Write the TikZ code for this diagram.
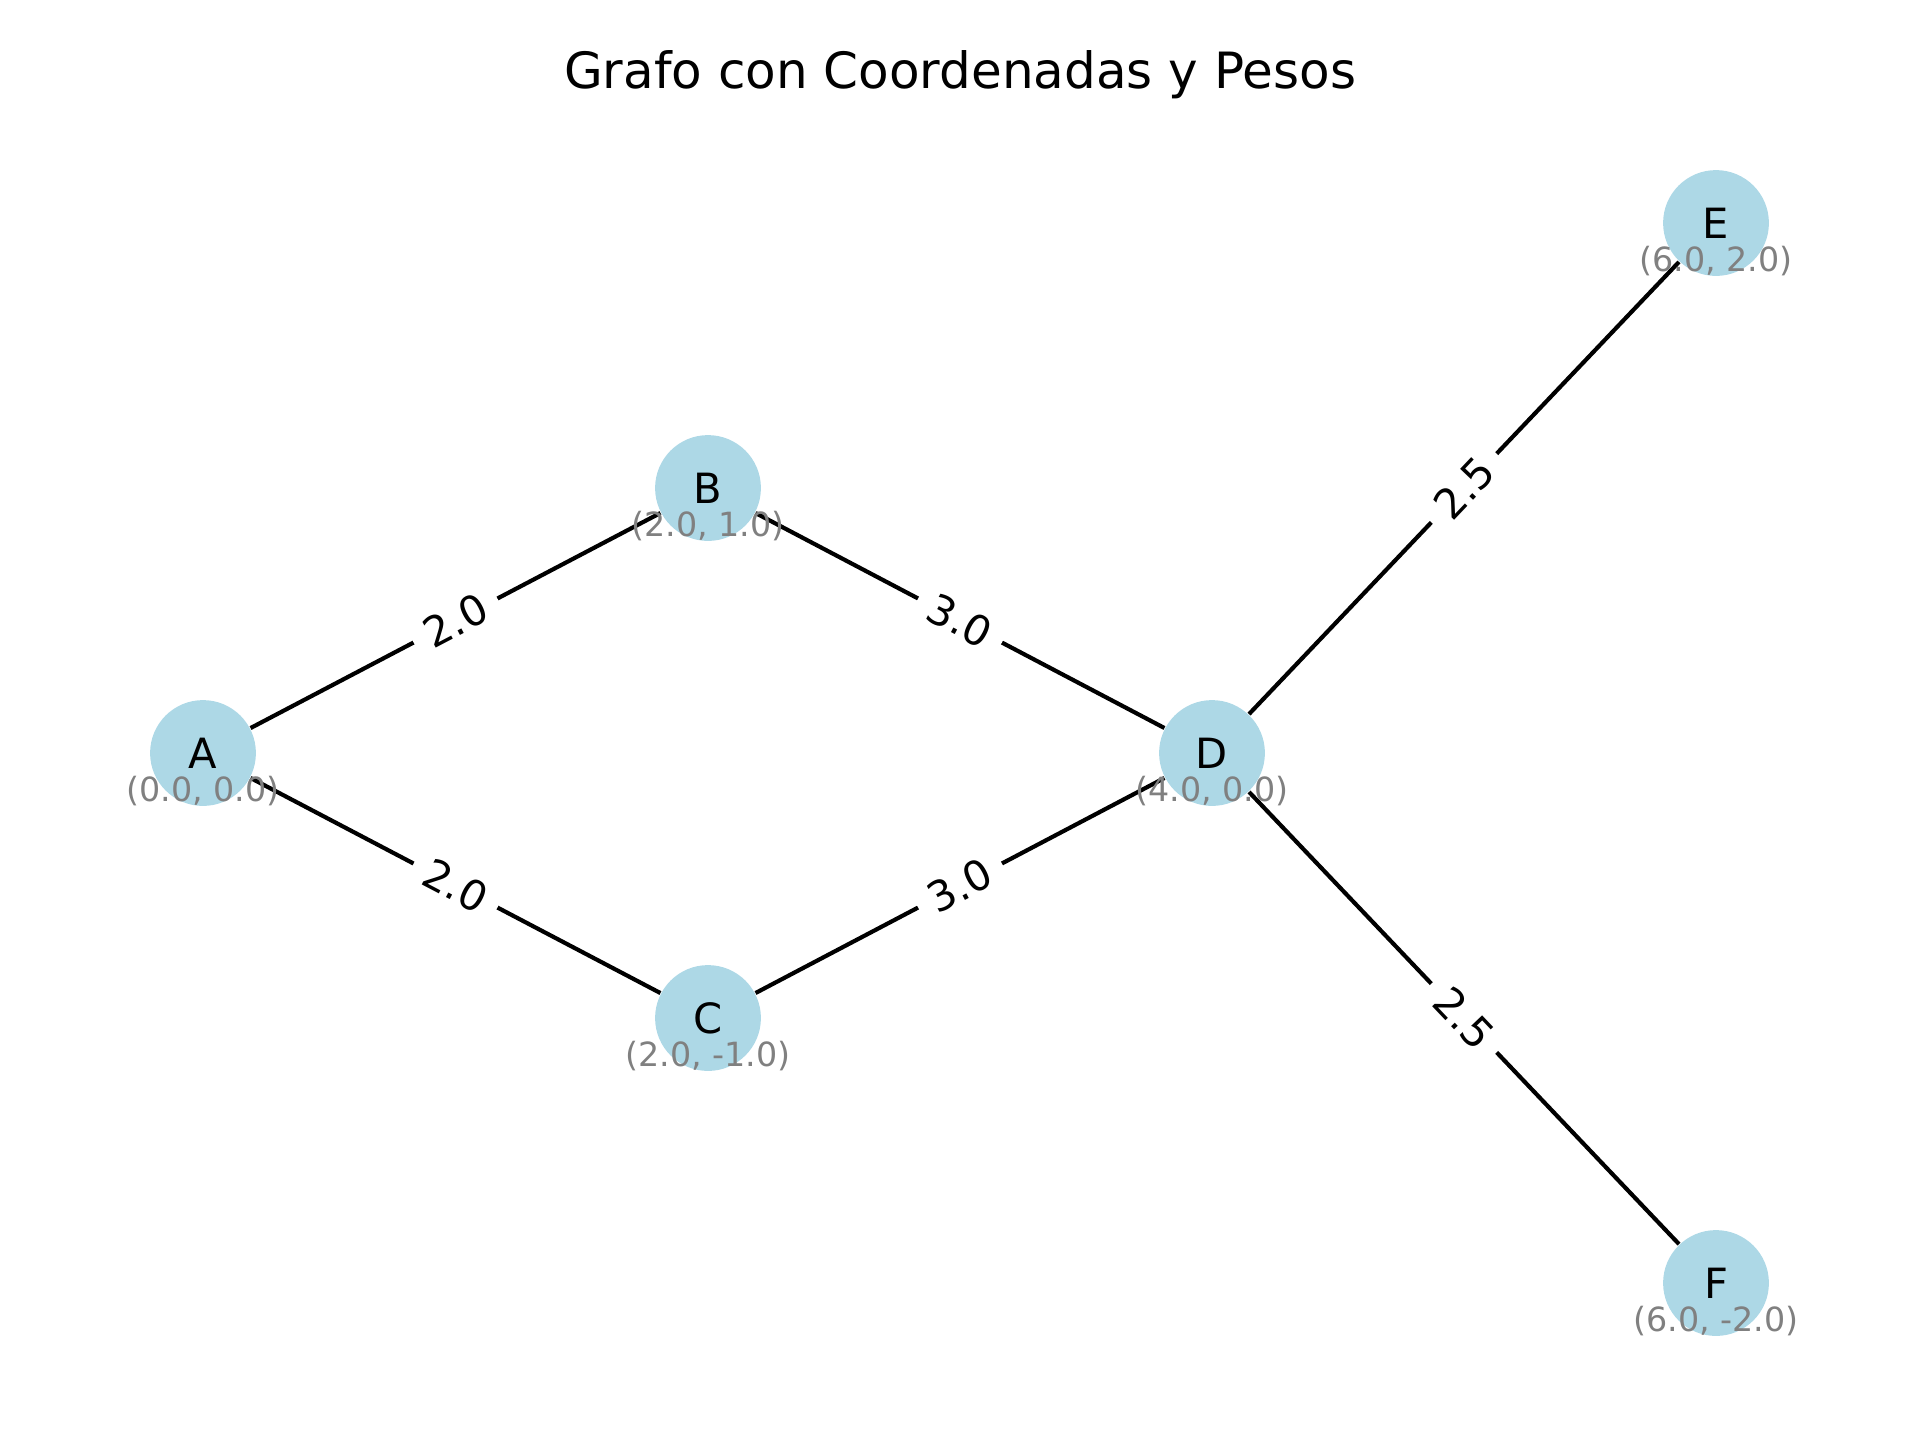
\documentclass[tikz,border=0pt]{standalone}
\usepackage{fontspec}
\setmainfont{DejaVu Sans}
\definecolor{nodeblue}{RGB}{173,216,230}
\definecolor{coordgray}{RGB}{128,128,128}
\tikzset{
  vertex/.style={circle, fill=nodeblue, draw=none, minimum size=25.4pt, inner sep=0pt, font=\fontsize{10}{12}\selectfont},
  coordlabel/.style={text=coordgray, inner sep=0pt, font=\fontsize{8}{9.6}\selectfont},
  edgeline/.style={draw=black, line width=1pt},
  weight/.style={midway, sloped, fill=white, rounded corners=3pt, inner xsep=3.4pt, inner ysep=3pt, font=\fontsize{10}{12}\selectfont},
}
\begin{document}
\begin{tikzpicture}[x=0.24pt, y=-0.24pt]
\useasboundingbox (0,0) rectangle (1920,1440);
\node (title) [anchor=base, font=\fontsize{12}{14.4}\selectfont] at (960,88) {Grafo con Coordenadas y Pesos};
% vertices
\node[vertex] (A) at (203,753) {A};
\node[vertex] (B) at (708,488) {B};
\node[vertex] (C) at (708,1018) {C};
\node[vertex] (D) at (1212,753) {D};
\node[vertex] (E) at (1716,223) {E};
\node[vertex] (F) at (1716,1283) {F};
% edges
\draw[edgeline] (A) -- (B) node[weight] {2.0};
\draw[edgeline] (A) -- (C) node[weight] {2.0};
\draw[edgeline] (B) -- (D) node[weight] {3.0};
\draw[edgeline] (C) -- (D) node[weight] {3.0};
\draw[edgeline] (D) -- (E) node[weight] {2.5};
\draw[edgeline] (D) -- (F) node[weight] {2.5};
% coordinate labels
\node[coordlabel] (cA) at (203,791) {(0.0, 0.0)};
\node[coordlabel] (cB) at (708,526) {(2.0, 1.0)};
\node[coordlabel] (cC) at (708,1056) {(2.0, -1.0)};
\node[coordlabel] (cD) at (1212,791) {(4.0, 0.0)};
\node[coordlabel] (cE) at (1716,261) {(6.0, 2.0)};
\node[coordlabel] (cF) at (1716,1321) {(6.0, -2.0)};
\end{tikzpicture}
\end{document}
